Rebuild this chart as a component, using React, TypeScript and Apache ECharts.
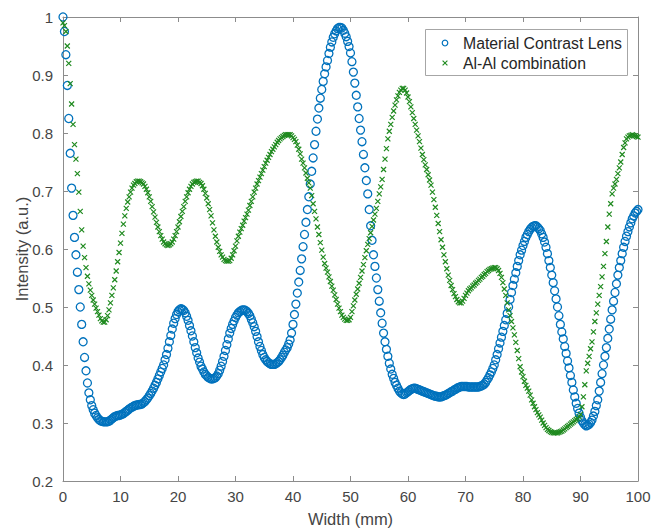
import React, { useEffect, useRef } from "react";
import * as echarts from "echarts";

// Sampling positions along the width (mm), every 0.25 mm from 0 to 100
const widthMm: number[] = Array.from({ length: 401 }, (_, i) => i * 0.25);

// Material Contrast Lens intensity (a.u.), one row = 5 mm
const materialContrastLens: number[] = [
  1.000, 0.975, 0.935, 0.882, 0.825, 0.765, 0.705, 0.658, 0.620, 0.590, 0.560, 0.530, 0.500, 0.470, 0.440, 0.413, 0.390, 0.369, 0.352, 0.340,
  0.330, 0.323, 0.317, 0.313, 0.309, 0.306, 0.304, 0.303, 0.302, 0.302, 0.302, 0.302, 0.303, 0.305, 0.307, 0.309, 0.311, 0.312, 0.313, 0.313,
  0.314, 0.315, 0.316, 0.318, 0.320, 0.322, 0.324, 0.326, 0.327, 0.329, 0.330, 0.331, 0.331, 0.332, 0.332, 0.333, 0.335, 0.337, 0.340, 0.343,
  0.347, 0.351, 0.355, 0.360, 0.365, 0.370, 0.376, 0.382, 0.388, 0.394, 0.400, 0.409, 0.418, 0.429, 0.440, 0.451, 0.462, 0.472, 0.480, 0.487,
  0.492, 0.495, 0.497, 0.496, 0.494, 0.490, 0.484, 0.477, 0.468, 0.459, 0.450, 0.440, 0.430, 0.421, 0.412, 0.405, 0.398, 0.393, 0.388, 0.384,
  0.381, 0.379, 0.377, 0.376, 0.376, 0.377, 0.378, 0.381, 0.385, 0.391, 0.398, 0.406, 0.415, 0.425, 0.435, 0.445, 0.455, 0.463, 0.470, 0.476,
  0.482, 0.486, 0.490, 0.492, 0.494, 0.495, 0.495, 0.494, 0.492, 0.489, 0.485, 0.479, 0.473, 0.466, 0.458, 0.449, 0.440, 0.432, 0.425, 0.418,
  0.413, 0.409, 0.406, 0.404, 0.402, 0.401, 0.401, 0.401, 0.402, 0.404, 0.406, 0.409, 0.413, 0.417, 0.422, 0.426, 0.430, 0.436, 0.443, 0.455,
  0.470, 0.487, 0.505, 0.524, 0.543, 0.563, 0.583, 0.604, 0.625, 0.646, 0.668, 0.690, 0.712, 0.734, 0.757, 0.780, 0.803, 0.824, 0.843, 0.860,
  0.875, 0.889, 0.902, 0.914, 0.925, 0.937, 0.948, 0.957, 0.965, 0.971, 0.976, 0.980, 0.982, 0.982, 0.981, 0.977, 0.972, 0.966, 0.958, 0.949,
  0.938, 0.923, 0.905, 0.886, 0.865, 0.845, 0.825, 0.805, 0.785, 0.763, 0.740, 0.718, 0.695, 0.668, 0.640, 0.615, 0.590, 0.570, 0.550, 0.530,
  0.510, 0.490, 0.472, 0.455, 0.440, 0.427, 0.415, 0.403, 0.393, 0.384, 0.377, 0.370, 0.365, 0.360, 0.355, 0.352, 0.350, 0.349, 0.350, 0.352,
  0.354, 0.356, 0.358, 0.359, 0.360, 0.360, 0.359, 0.358, 0.357, 0.356, 0.355, 0.354, 0.353, 0.352, 0.351, 0.350, 0.349, 0.348, 0.347, 0.346,
  0.346, 0.345, 0.345, 0.345, 0.346, 0.347, 0.348, 0.349, 0.351, 0.352, 0.354, 0.355, 0.357, 0.358, 0.360, 0.361, 0.362, 0.363, 0.363, 0.363,
  0.363, 0.363, 0.362, 0.362, 0.362, 0.362, 0.362, 0.362, 0.362, 0.362, 0.363, 0.364, 0.365, 0.367, 0.370, 0.374, 0.378, 0.383, 0.388, 0.394,
  0.400, 0.409, 0.418, 0.428, 0.438, 0.448, 0.458, 0.468, 0.478, 0.489, 0.500, 0.513, 0.525, 0.537, 0.548, 0.559, 0.570, 0.580, 0.590, 0.598,
  0.606, 0.613, 0.620, 0.625, 0.630, 0.634, 0.637, 0.639, 0.640, 0.640, 0.638, 0.635, 0.632, 0.626, 0.620, 0.612, 0.603, 0.592, 0.580, 0.568,
  0.555, 0.542, 0.528, 0.514, 0.500, 0.485, 0.470, 0.457, 0.445, 0.432, 0.420, 0.407, 0.395, 0.382, 0.370, 0.357, 0.345, 0.334, 0.325, 0.317,
  0.310, 0.304, 0.300, 0.297, 0.295, 0.296, 0.298, 0.301, 0.305, 0.312, 0.320, 0.330, 0.340, 0.355, 0.370, 0.385, 0.400, 0.415, 0.430, 0.446,
  0.462, 0.479, 0.495, 0.510, 0.525, 0.540, 0.555, 0.568, 0.580, 0.592, 0.603, 0.613, 0.622, 0.630, 0.638, 0.645, 0.652, 0.657, 0.662, 0.665,
  0.668,
];

// Al-Al combination intensity (a.u.), one row = 5 mm
const alAlCombination: number[] = [
  0.990, 0.985, 0.975, 0.950, 0.920, 0.885, 0.850, 0.815, 0.780, 0.755, 0.730, 0.698, 0.665, 0.633, 0.605, 0.585, 0.568, 0.553, 0.540, 0.529,
  0.520, 0.512, 0.505, 0.498, 0.492, 0.486, 0.480, 0.476, 0.474, 0.474, 0.478, 0.485, 0.495, 0.507, 0.520, 0.533, 0.547, 0.562, 0.578, 0.594,
  0.610, 0.627, 0.643, 0.657, 0.670, 0.681, 0.690, 0.698, 0.705, 0.710, 0.713, 0.716, 0.717, 0.717, 0.716, 0.714, 0.712, 0.708, 0.703, 0.697,
  0.690, 0.682, 0.673, 0.664, 0.655, 0.646, 0.638, 0.630, 0.623, 0.617, 0.612, 0.609, 0.607, 0.606, 0.607, 0.609, 0.612, 0.617, 0.623, 0.630,
  0.638, 0.647, 0.656, 0.665, 0.673, 0.682, 0.690, 0.697, 0.703, 0.708, 0.712, 0.715, 0.716, 0.717, 0.717, 0.715, 0.713, 0.709, 0.703, 0.696,
  0.688, 0.678, 0.668, 0.657, 0.645, 0.633, 0.622, 0.612, 0.603, 0.596, 0.590, 0.586, 0.582, 0.580, 0.579, 0.579, 0.580, 0.584, 0.590, 0.597,
  0.605, 0.614, 0.622, 0.629, 0.635, 0.641, 0.648, 0.654, 0.660, 0.667, 0.675, 0.682, 0.690, 0.698, 0.705, 0.712, 0.718, 0.724, 0.730, 0.736,
  0.742, 0.748, 0.753, 0.758, 0.763, 0.768, 0.772, 0.776, 0.780, 0.784, 0.787, 0.790, 0.792, 0.794, 0.796, 0.797, 0.797, 0.797, 0.797, 0.795,
  0.792, 0.789, 0.785, 0.779, 0.772, 0.764, 0.755, 0.748, 0.740, 0.731, 0.722, 0.714, 0.705, 0.692, 0.678, 0.665, 0.652, 0.638, 0.625, 0.611,
  0.598, 0.586, 0.575, 0.567, 0.560, 0.552, 0.544, 0.536, 0.529, 0.521, 0.513, 0.505, 0.498, 0.492, 0.486, 0.482, 0.479, 0.477, 0.477, 0.478,
  0.482, 0.492, 0.502, 0.512, 0.522, 0.531, 0.541, 0.551, 0.562, 0.573, 0.585, 0.597, 0.608, 0.618, 0.628, 0.639, 0.650, 0.660, 0.670, 0.682,
  0.695, 0.707, 0.720, 0.737, 0.755, 0.773, 0.790, 0.803, 0.815, 0.827, 0.838, 0.848, 0.857, 0.864, 0.870, 0.874, 0.877, 0.877, 0.874, 0.869,
  0.862, 0.854, 0.845, 0.835, 0.825, 0.815, 0.805, 0.795, 0.785, 0.774, 0.763, 0.754, 0.745, 0.737, 0.728, 0.719, 0.710, 0.698, 0.685, 0.672,
  0.658, 0.644, 0.630, 0.616, 0.603, 0.590, 0.578, 0.566, 0.555, 0.546, 0.537, 0.530, 0.523, 0.518, 0.513, 0.509, 0.507, 0.507, 0.510, 0.515,
  0.520, 0.524, 0.528, 0.531, 0.533, 0.536, 0.538, 0.541, 0.543, 0.546, 0.548, 0.551, 0.553, 0.556, 0.558, 0.561, 0.563, 0.565, 0.566, 0.567,
  0.568, 0.568, 0.566, 0.563, 0.558, 0.551, 0.542, 0.531, 0.520, 0.507, 0.495, 0.485, 0.475, 0.464, 0.452, 0.439, 0.425, 0.411, 0.397, 0.388,
  0.380, 0.372, 0.365, 0.360, 0.355, 0.348, 0.340, 0.334, 0.328, 0.323, 0.318, 0.314, 0.310, 0.305, 0.300, 0.296, 0.292, 0.289, 0.287, 0.285,
  0.284, 0.283, 0.283, 0.283, 0.283, 0.284, 0.285, 0.286, 0.288, 0.290, 0.292, 0.294, 0.296, 0.298, 0.300, 0.302, 0.304, 0.306, 0.308, 0.311,
  0.315, 0.328, 0.345, 0.366, 0.390, 0.403, 0.415, 0.428, 0.440, 0.457, 0.475, 0.490, 0.505, 0.520, 0.535, 0.552, 0.570, 0.592, 0.613, 0.638,
  0.660, 0.678, 0.695, 0.705, 0.712, 0.720, 0.730, 0.740, 0.750, 0.763, 0.775, 0.783, 0.790, 0.793, 0.795, 0.796, 0.797, 0.796, 0.795, 0.794,
  0.793,
];

const seriesNames = ["Material Contrast Lens", "Al-Al combination"];
const xTickStep = 10;
const yTickStep = 0.1;

const FONT = "Liberation Sans, Arial, Helvetica, sans-serif";
const AXIS_COLOR = "#8c8c8c";
const TEXT_COLOR = "#454545";
const BLUE = "#0072BD";
const GREEN = "#1f8a1f";
const CROSS = "path://M0,0L10,10M10,0L0,10";

export default function App() {
  const ref = useRef<HTMLDivElement>(null);

  useEffect(() => {
    if (!ref.current) return;
    const chart = echarts.init(ref.current, undefined, { renderer: "svg" });

    const axisCommon = {
      axisLine: { show: true, onZero: false, lineStyle: { color: AXIS_COLOR, width: 1 } },
      axisTick: { show: true, inside: true, length: 5, lineStyle: { color: AXIS_COLOR } },
      splitLine: { show: false },
    };

    const lgX = 425;
    const lgY = 29;

    chart.setOption({
      animation: false,
      backgroundColor: "#ffffff",
      textStyle: { fontFamily: FONT },
      grid: {
        left: 63,
        right: 13,
        top: 17,
        bottom: 48,
        containLabel: false,
        outerBoundsMode: "none",
      },
      xAxis: [
        {
          type: "value",
          position: "bottom",
          min: 0,
          max: 100,
          interval: xTickStep,
          name: "Width (mm)",
          nameLocation: "middle",
          nameGap: 29,
          nameMoveOverlap: false,
          nameTextStyle: { fontSize: 16.5, color: TEXT_COLOR, fontFamily: FONT },
          axisLabel: { margin: 8, fontSize: 15, color: TEXT_COLOR, fontFamily: FONT },
          ...axisCommon,
        },
        {
          type: "value",
          position: "top",
          min: 0,
          max: 100,
          interval: xTickStep,
          axisLabel: { show: false },
          ...axisCommon,
        },
      ],
      yAxis: [
        {
          type: "value",
          position: "left",
          min: 0.2,
          max: 1,
          interval: yTickStep,
          name: "Intensity (a.u.)",
          nameLocation: "middle",
          nameGap: 33,
          nameMoveOverlap: false,
          nameTextStyle: { fontSize: 16.5, color: TEXT_COLOR, fontFamily: FONT },
          axisLabel: { margin: 10, fontSize: 15, color: TEXT_COLOR, fontFamily: FONT },
          ...axisCommon,
        },
        {
          type: "value",
          position: "right",
          min: 0.2,
          max: 1,
          interval: yTickStep,
          axisLabel: { show: false },
          ...axisCommon,
        },
      ],
      graphic: [
        {
          type: "group",
          z: 100,
          children: [
            {
              type: "rect",
              shape: { x: lgX + 0.5, y: lgY + 0.5, width: 202, height: 46 },
              style: { fill: "#ffffff", stroke: "#a6a6a6", lineWidth: 1 },
            },
            {
              type: "circle",
              shape: { cx: lgX + 20, cy: lgY + 14, r: 2.8 },
              style: { fill: "none", stroke: BLUE, lineWidth: 1.2 },
            },
            {
              type: "line",
              shape: { x1: lgX + 17.6, y1: lgY + 31.6, x2: lgX + 22.4, y2: lgY + 36.4 },
              style: { stroke: GREEN, lineWidth: 1.1 },
            },
            {
              type: "line",
              shape: { x1: lgX + 22.4, y1: lgY + 31.6, x2: lgX + 17.6, y2: lgY + 36.4 },
              style: { stroke: GREEN, lineWidth: 1.1 },
            },
            {
              type: "text",
              style: {
                x: lgX + 38,
                y: lgY + 14,
                text: seriesNames[0],
                fill: "#262626",
                font: `15.8px ${FONT}`,
                verticalAlign: "middle",
              },
            },
            {
              type: "text",
              style: {
                x: lgX + 38,
                y: lgY + 34,
                text: seriesNames[1],
                fill: "#262626",
                font: `15.8px ${FONT}`,
                verticalAlign: "middle",
              },
            },
          ],
        },
      ],
      series: [
        {
          name: seriesNames[0],
          type: "scatter",
          xAxisIndex: 0,
          yAxisIndex: 0,
          symbol: "circle",
          symbolSize: 8,
          itemStyle: { color: "transparent", borderColor: BLUE, borderWidth: 1.3, opacity: 1 },
          data: widthMm.map((x, i) => [x, materialContrastLens[i]]),
        },
        {
          name: seriesNames[1],
          type: "scatter",
          xAxisIndex: 0,
          yAxisIndex: 0,
          symbol: CROSS,
          symbolSize: 5,
          itemStyle: { color: "transparent", borderColor: GREEN, borderWidth: 1.2, opacity: 1 },
          data: widthMm.map((x, i) => [x, alAlCombination[i]]),
        },
      ],
    });

    return () => chart.dispose();
  }, []);

  return (
    <div
      ref={ref}
      style={{ position: "fixed", left: 0, top: 0, width: 651, height: 529 }}
    />
  );
}
